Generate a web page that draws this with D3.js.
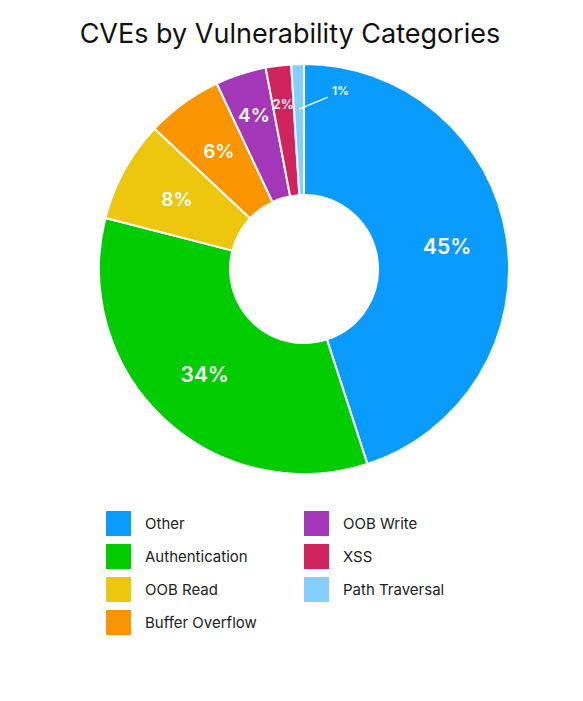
<!DOCTYPE html><html><head><meta charset="utf-8">
<script src="https://cdn.jsdelivr.net/npm/d3@7"></script>
<style>body{margin:0;background:#fff}</style></head><body>
<svg id="c" width="583" height="701"></svg>
<script>
const categories=["Other","Authentication","OOB Read","Buffer Overflow","OOB Write","XSS","Path Traversal"];
const values=[45,34,8,6,4,2,1];
const colors=["#0A9BFF","#00CC00","#EDC70D","#F99500","#A337B8","#D0245F","#85CFFF"];
const svg=d3.select("#c");
const font="Inter, 'Noto Sans', sans-serif";
svg.append("text").attr("x",290).attr("y",43).attr("text-anchor","middle")
 .attr("font-family",font).attr("font-size",27).attr("fill","#111").text("CVEs by Vulnerability Categories");
const cx=304,cy=269;
const g=svg.append("g").attr("transform",`translate(${cx},${cy})`);
const pie=d3.pie().sort(null).value(d=>d)(values);
const arc=d3.arc().innerRadius(74).outerRadius(205);
g.selectAll("path").data(pie).join("path").attr("d",arc)
 .attr("fill",(d,i)=>colors[i]).attr("stroke","#fff").attr("stroke-width",2);
const lab=(d,r)=>{const a=(d.startAngle+d.endAngle)/2;return [Math.sin(a)*r,-Math.cos(a)*r];};
pie.forEach((d,i)=>{
  const v=values[i];
  if(v===1){
    const p1=lab(d,160),p2=[p1[0]+29,p1[1]-12];
    g.append("line").attr("x1",p1[0]).attr("y1",p1[1]).attr("x2",p2[0]).attr("y2",p2[1]).attr("stroke","#fff").attr("stroke-width",1.5);
    g.append("text").attr("x",p2[0]+4).attr("y",p2[1]-2).attr("font-family",font).attr("font-weight",600)
     .attr("font-size",12).attr("fill","#fff").text(v+"%");
    return;
  }
  const r=v>=5?145:(v>=4?162:166);
  const p=lab(d,r);
  const fs=v>=30?21:(v>=4?19:13);
  g.append("text").attr("x",p[0]).attr("y",p[1]).attr("dy","0.35em").attr("text-anchor","middle")
   .attr("font-family",font).attr("font-weight",600).attr("font-size",fs).attr("fill","#fff").text(v+"%");
});
const lg=svg.append("g");
categories.forEach((c,i)=>{
  const col=i<4?0:1,row=i<4?i:i-4;
  const x=col?304:106,y=511+row*33;
  lg.append("rect").attr("x",x).attr("y",y).attr("width",25).attr("height",25).attr("fill",colors[i]);
  lg.append("text").attr("x",x+39).attr("y",y+13).attr("dy","0.35em").attr("font-family",font)
   .attr("font-size",15).attr("fill","#222").text(c);
});
</script></body></html>
